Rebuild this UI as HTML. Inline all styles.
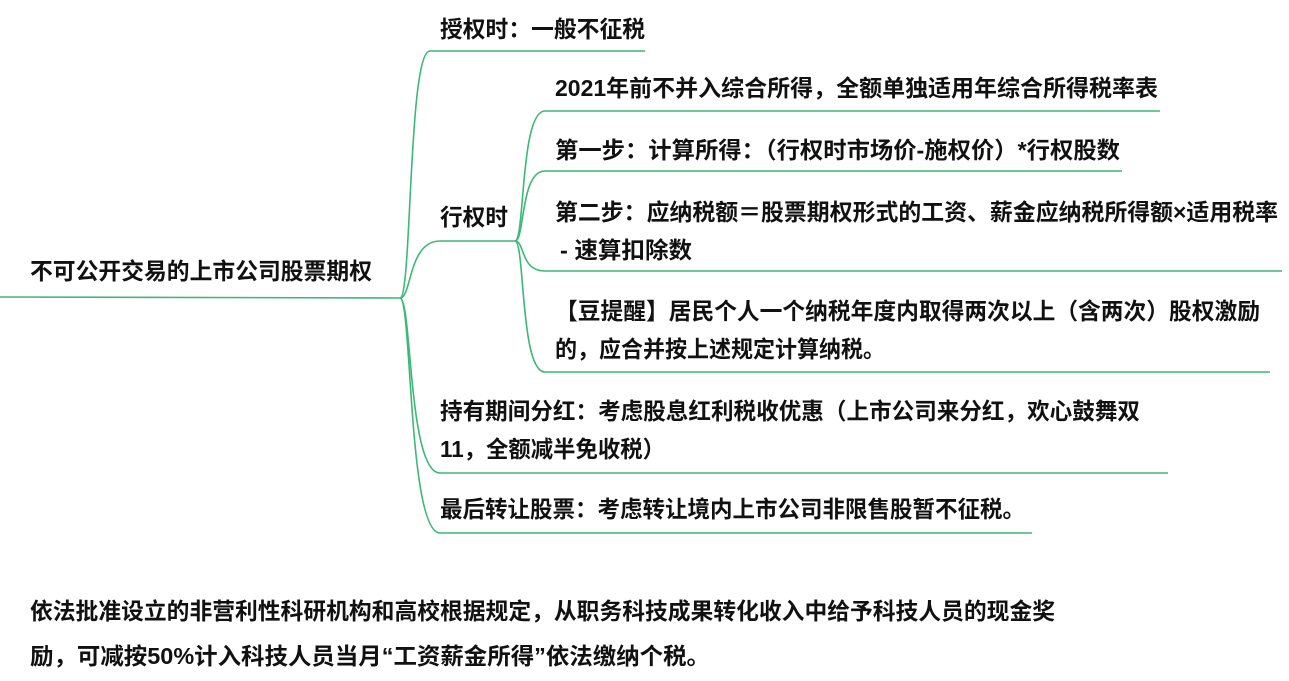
<!DOCTYPE html>
<html><head><meta charset="utf-8"><style>
html,body{margin:0;padding:0;background:#fff;}
svg{display:block}
text{font-family:"Liberation Sans","Noto Sans CJK SC",sans-serif;font-weight:bold;font-size:23px;fill:#111;}
</style></head><body>
<svg width="1289" height="681" viewBox="0 0 1289 681">
<g fill="none" stroke="#3cb878" stroke-width="1.6">
<path d="M0,297 L400,298"/>
<path d="M400,298 C412,298 408,51 430,51 L645,51"/>
<path d="M400,298 C412,298 408,241 440,241 L515,241"/>
<path d="M400,298 C412,298 408,473 440,473 L1168,473"/>
<path d="M400,298 C412,298 408,533 440,533 L1032,533"/>
<path d="M515,241 C525,241 520,111 545,111 L1160,111"/>
<path d="M515,241 C525,241 520,171 545,171 L1122,171"/>
<path d="M515,241 C525,241 520,271 545,271 L1282,271"/>
<path d="M515,241 C525,241 520,372 545,372 L1270,372"/>
</g>
<text x="30" y="279" textLength="342" lengthAdjust="spacingAndGlyphs">不可公开交易的上市公司股票期权</text>
<text x="440" y="37" textLength="205" lengthAdjust="spacingAndGlyphs">授权时：一般不征税</text>
<text x="440" y="225" textLength="68" lengthAdjust="spacingAndGlyphs">行权时</text>
<text x="555" y="96" textLength="603" lengthAdjust="spacingAndGlyphs">2021年前不并入综合所得，全额单独适用年综合所得税率表</text>
<text x="555" y="158" textLength="565" lengthAdjust="spacingAndGlyphs">第一步：计算所得：（行权时市场价-施权价）*行权股数</text>
<text x="555" y="220" textLength="723" lengthAdjust="spacingAndGlyphs">第二步：应纳税额＝股票期权形式的工资、薪金应纳税所得额×适用税率</text>
<text x="560" y="258" textLength="132" lengthAdjust="spacingAndGlyphs">- 速算扣除数</text>
<text x="555" y="319" textLength="705" lengthAdjust="spacingAndGlyphs">【豆提醒】居民个人一个纳税年度内取得两次以上（含两次）股权激励</text>
<text x="555" y="357" textLength="330" lengthAdjust="spacingAndGlyphs">的，应合并按上述规定计算纳税。</text>
<text x="440" y="419" textLength="700" lengthAdjust="spacingAndGlyphs">持有期间分红：考虑股息红利税收优惠（上市公司来分红，欢心鼓舞双</text>
<text x="440" y="457" textLength="225" lengthAdjust="spacingAndGlyphs">11，全额减半免收税）</text>
<text x="440" y="517" textLength="585" lengthAdjust="spacingAndGlyphs">最后转让股票：考虑转让境内上市公司非限售股暂不征税。</text>
<text x="30" y="619" textLength="1025" lengthAdjust="spacingAndGlyphs">依法批准设立的非营利性科研机构和高校根据规定，从职务科技成果转化收入中给予科技人员的现金奖</text>
<text x="30" y="664" textLength="680" lengthAdjust="spacingAndGlyphs">励，可减按50%计入科技人员当月“工资薪金所得”依法缴纳个税。</text>
</svg>
</body></html>
